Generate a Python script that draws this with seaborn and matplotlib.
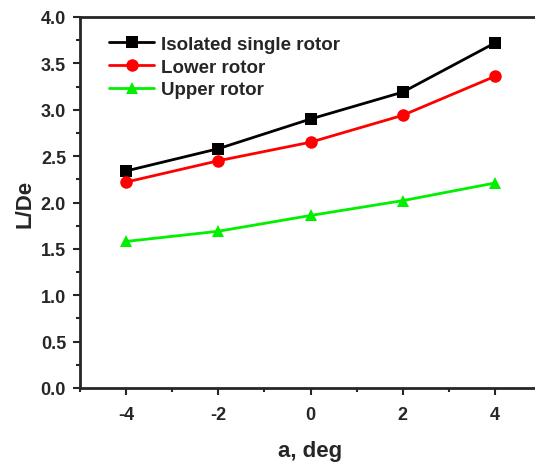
import matplotlib
matplotlib.use("Agg")
import matplotlib.pyplot as plt
import seaborn as sns
import pandas as pd
from matplotlib.ticker import MultipleLocator

angles = [-4, -2, 0, 2, 4]
isolated = [2.34, 2.58, 2.90, 3.19, 3.72]
lower = [2.22, 2.45, 2.65, 2.94, 3.36]
upper = [1.58, 1.69, 1.86, 2.02, 2.21]
series_names = ["Isolated single rotor", "Lower rotor", "Upper rotor"]
y_ticks = [0.0, 0.5, 1.0, 1.5, 2.0, 2.5, 3.0, 3.5, 4.0]

df = pd.concat([
    pd.DataFrame({"a": angles, "LD": vals, "rotor": name})
    for name, vals in zip(series_names, [isolated, lower, upper])
])

sns.set_style("ticks")
plt.rcParams["font.family"] = ["Liberation Sans", "DejaVu Sans"]
plt.rcParams["font.weight"] = "bold"
plt.rcParams["axes.unicode_minus"] = False

fig = plt.figure(figsize=(5.35, 4.64), dpi=100)
ax = fig.add_axes([80 / 535, 1 - 389 / 464, 461 / 535, 371 / 464])

palette = {"Isolated single rotor": "#000000", "Lower rotor": "#ff0000", "Upper rotor": "#00f000"}
markers = {"Isolated single rotor": "s", "Lower rotor": "o", "Upper rotor": "^"}
sns.lineplot(data=df, x="a", y="LD", hue="rotor", style="rotor", palette=palette,
             markers=markers, dashes=False, markersize=9, linewidth=2,
             markeredgewidth=0, ax=ax)

ax.set_xlim(-5, 5)
ax.set_ylim(0, 4.0)
ax.xaxis.set_major_locator(MultipleLocator(2))
ax.xaxis.set_minor_locator(MultipleLocator(1))
ax.yaxis.set_minor_locator(MultipleLocator(0.25))
ax.set_yticks(y_ticks)
ax.set_yticklabels([f"{v:.1f}" for v in y_ticks])
ax.tick_params(axis="both", which="major", direction="out", length=5, width=1.5,
               labelsize=13, pad=5)
ax.tick_params(axis="x", which="major", pad=8)
ax.tick_params(axis="both", which="minor", direction="out", length=3, width=1.5)
for lbl in ax.get_xticklabels() + ax.get_yticklabels():
    lbl.set_fontweight("bold")

for side in ["left", "bottom", "top"]:
    ax.spines[side].set_linewidth(2)
    ax.spines[side].set_visible(True)
ax.spines["right"].set_visible(False)

ax.set_xlabel("a, deg", fontsize=16, fontweight="bold", labelpad=12)
ax.set_ylabel("L/De", fontsize=16, fontweight="bold", labelpad=4)

leg = ax.legend(loc="upper left", bbox_to_anchor=(0.035, 0.985), frameon=False,
                fontsize=13.5, handlelength=2.4, handletextpad=0.35,
                labelspacing=0.3, borderaxespad=0.3)
for t in leg.get_texts():
    t.set_fontweight("bold")

fig.savefig("out.png", dpi=100)
